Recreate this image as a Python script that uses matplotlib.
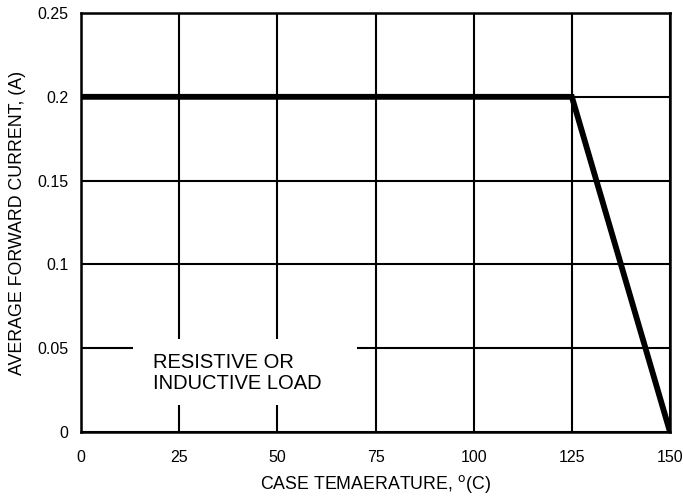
import matplotlib
matplotlib.use("Agg")
import matplotlib.pyplot as plt
from matplotlib.patches import Rectangle

plt.rcParams['font.family'] = ['Liberation Sans', 'DejaVu Sans']

# derating curve points
case_temp = [0, 125, 150]
fwd_current = [0.2, 0.2, 0.0]

x_ticks = [0, 25, 50, 75, 100, 125, 150]
y_ticks = [0, 0.05, 0.1, 0.15, 0.2, 0.25]
y_tick_labels = ['0', '0.05', '0.1', '0.15', '0.2', '0.25']

fig = plt.figure(figsize=(6.83, 5.01), dpi=100)
ax = fig.add_axes([0.1186, 0.1377, 0.8624, 0.8363])

ax.plot(case_temp, fwd_current, color='black', linewidth=4.2,
        solid_capstyle='butt', solid_joinstyle='miter', zorder=3)

ax.set_xlim(0, 150)
ax.set_ylim(0, 0.25)
ax.set_xticks(x_ticks)
ax.set_yticks(y_ticks)
ax.set_yticklabels(y_tick_labels)
ax.tick_params(length=0, labelsize=11.5)
ax.tick_params(axis='x', pad=13)
ax.tick_params(axis='y', pad=9)
ax.grid(True, color='black', linewidth=1.5)
for s in ax.spines.values():
    s.set_linewidth(1.8)

ax.set_xlabel(r'CASE TEMAERATURE, $^{\mathrm{o}}$(C)', fontsize=12.8, labelpad=6)
ax.set_ylabel('AVERAGE FORWARD CURRENT, (A)', fontsize=12.8, labelpad=8)

# white patch breaking the grid behind the note
ax.add_patch(Rectangle((13.2, 0.016), 57.1, 0.0394, facecolor='white',
                       edgecolor='none', zorder=2.5))
ax.text(18.3, 0.0354, 'RESISTIVE OR\nINDUCTIVE LOAD', fontsize=14.5,
        linespacing=1.12, va='center', ha='left', zorder=4)

fig.savefig('out.png', dpi=100)
